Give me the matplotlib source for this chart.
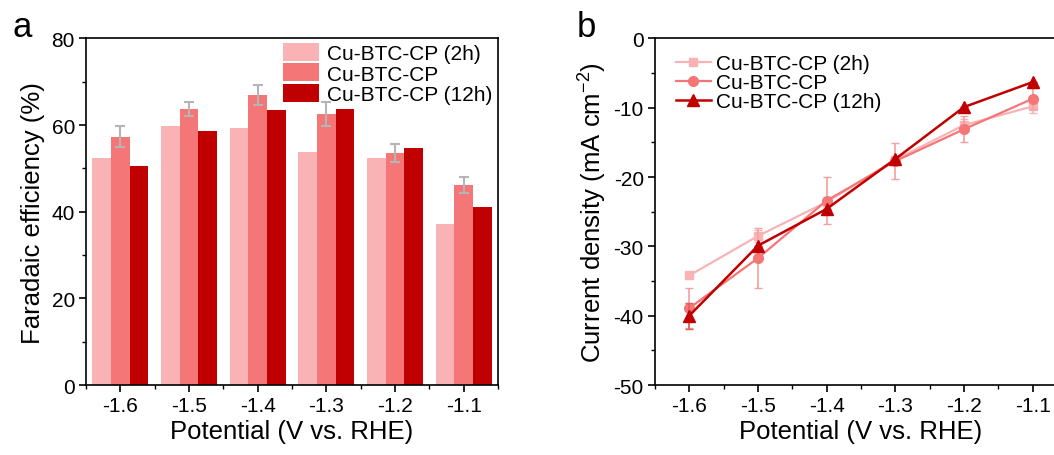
import matplotlib
matplotlib.use("Agg")
import matplotlib.pyplot as plt
import numpy as np
from matplotlib.ticker import MultipleLocator, FixedLocator

plt.rcParams['font.family'] = ['Liberation Sans', 'DejaVu Sans']
plt.rcParams['mathtext.fontset'] = 'custom'
plt.rcParams['mathtext.rm'] = 'Liberation Sans'
plt.rcParams['mathtext.it'] = 'Liberation Sans:italic'
plt.rcParams['axes.unicode_minus'] = False

potentials = [-1.6, -1.5, -1.4, -1.3, -1.2, -1.1]
tick_labels = ['-1.6', '-1.5', '-1.4', '-1.3', '-1.2', '-1.1']
series_names = ['Cu-BTC-CP (2h)', 'Cu-BTC-CP', 'Cu-BTC-CP (12h)']

fe_2h = [52.5, 59.8, 59.4, 53.9, 52.5, 37.1]
fe_mid = [57.3, 63.8, 67.0, 62.6, 53.5, 46.2]
fe_mid_err = [2.4, 1.6, 2.3, 2.7, 2.1, 1.9]
fe_12h = [50.6, 58.6, 63.5, 63.8, 54.8, 41.2]

j_2h = [-34.2, -28.5, -23.6, -17.5, -12.5, -9.8]
j_2h_err = [0.0, 0.9, 0.0, 0.0, 0.9, 1.0]
j_mid = [-38.9, -31.7, -23.4, -17.7, -13.1, -8.7]
j_mid_err = [2.9, 4.3, 3.4, 2.6, 1.9, 1.5]
j_12h = [-40.0, -29.9, -24.6, -17.4, -9.9, -6.3]
j_12h_err = [1.9, 0.0, 0.0, 0.0, 0.0, 0.0]

c_light = '#f9b3b5'
c_mid = '#f47677'
c_dark = '#c00000'

fig = plt.figure(figsize=(10.54, 4.56), dpi=100)
ax1 = fig.add_axes([0.0816, 0.1535, 0.3909, 0.760])
ax2 = fig.add_axes([0.6214, 0.1535, 0.3909, 0.760])

x = np.array(potentials)
w = 0.0272
ax1.bar(x - w, fe_2h, width=w, color=c_light, label=series_names[0], zorder=2)
ax1.bar(x, fe_mid, width=w, color=c_mid, label=series_names[1], zorder=2)
ax1.bar(x + w, fe_12h, width=w, color=c_dark, label=series_names[2], zorder=2)
ax1.errorbar(x, fe_mid, yerr=fe_mid_err, fmt='none', ecolor='#b5b5b5',
             elinewidth=1.5, capsize=3.5, capthick=1.5, zorder=3)
ax1.set_xlim(-1.65, -1.05)
ax1.set_ylim(0, 80)
ax1.set_xticks(potentials)
ax1.set_xticklabels(tick_labels)
ax1.xaxis.set_minor_locator(FixedLocator(np.arange(-1.65, -1.04, 0.1)))
ax1.yaxis.set_major_locator(MultipleLocator(20))
ax1.yaxis.set_minor_locator(MultipleLocator(10))
ax1.set_xlabel('Potential (V vs. RHE)', fontsize=18.5, labelpad=3)
ax1.set_ylabel('Faradaic efficiency (%)', fontsize=18.5, labelpad=5)
ax1.legend(loc='upper left', bbox_to_anchor=(0.472, 0.992), frameon=False,
           fontsize=15, handlelength=1.75, handleheight=0.95,
           labelspacing=0.0, handletextpad=0.4, borderpad=0.1,
           borderaxespad=0.0)

h1 = ax2.errorbar(x, j_2h, yerr=j_2h_err, color=c_light, marker='s', markersize=6,
                  linewidth=1.6, capsize=3, elinewidth=1.2, zorder=3)
h2 = ax2.errorbar(x, j_mid, yerr=j_mid_err, color=c_mid, marker='o', markersize=7,
                  linewidth=1.6, capsize=3, elinewidth=1.2, ecolor='#f4a0a0', zorder=4)
h3 = ax2.errorbar(x, j_12h, yerr=j_12h_err, color=c_dark, marker='^', markersize=8,
                  linewidth=1.8, capsize=3, elinewidth=1.2, ecolor='#e06060', zorder=5)
ax2.set_xlim(-1.65, -1.05)
ax2.set_ylim(-50, 0)
ax2.set_xticks(potentials)
ax2.set_xticklabels(tick_labels)
ax2.xaxis.set_minor_locator(FixedLocator(np.arange(-1.65, -1.04, 0.1)))
ax2.yaxis.set_major_locator(MultipleLocator(10))
ax2.yaxis.set_minor_locator(MultipleLocator(5))
ax2.set_xlabel('Potential (V vs. RHE)', fontsize=18.5, labelpad=3)
ax2.set_ylabel('Current density (mA cm$^{-2}$)', fontsize=18.5, labelpad=3)
ax2.spines['right'].set_visible(False)
ax2.legend([h1[0], h2[0], h3[0]], series_names,
           loc='upper left', bbox_to_anchor=(0.045, 0.96), frameon=False,
           fontsize=15, handlelength=1.7, labelspacing=0.0,
           handletextpad=0.25, borderpad=0.1, borderaxespad=0.0)

for ax in (ax1, ax2):
    ax.tick_params(axis='both', which='major', direction='out', length=5, width=1.2,
                   labelsize=15, pad=3)
    ax.tick_params(axis='both', which='minor', direction='out', length=3, width=1.0)
    for s in ax.spines.values():
        s.set_linewidth(1.2)

fig.text(0.012, 0.918, 'a', fontsize=25, va='baseline')
fig.text(0.547, 0.918, 'b', fontsize=25, va='baseline')

fig.savefig('out.png', dpi=100)
